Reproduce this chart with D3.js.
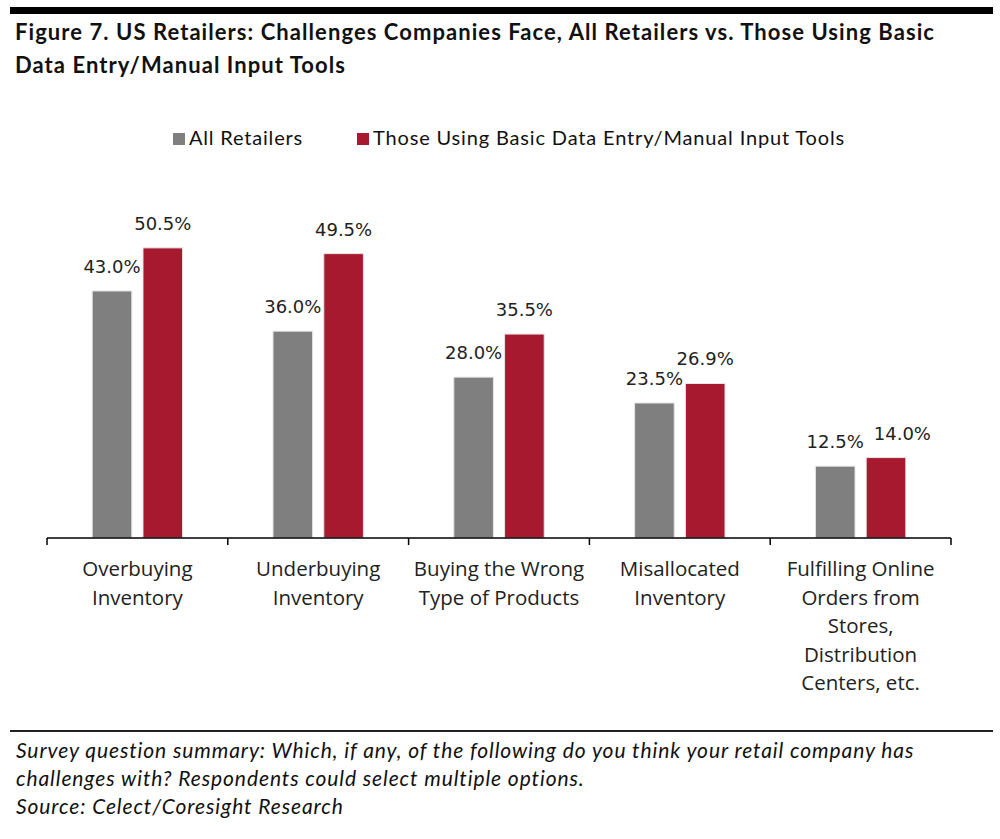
<!DOCTYPE html>
<html>
<head>
    <meta charset="utf-8">
    <title>US Retailers: Challenges Companies Face</title>
    <style>
    body { margin: 0; background: white; }
    .title { font-family: Lato, sans-serif; font-weight: bold; font-size: 22px; fill: #111; }
    .legend text { font-family: Lato, sans-serif; font-size: 20px; fill: #111; }
    .value { font-family: "DejaVu Sans", sans-serif; font-size: 18px; fill: #222; text-anchor: middle; }
    .cat { font-family: "Open Sans", sans-serif; font-size: 20.5px; fill: #222; text-anchor: middle; }
    .note { font-family: Lato, sans-serif; font-style: italic; font-size: 21px; fill: #111; }
    </style>
</head>
<body>
    <svg width="1000" height="839"></svg>
    <script src="https://d3js.org/d3.v7.min.js"></script>
    <script>
        // chart data
        var categories = [
            "Overbuying Inventory",
            "Underbuying Inventory",
            "Buying the Wrong Type of Products",
            "Misallocated Inventory",
            "Fulfilling Online Orders from Stores, Distribution Centers, etc."
        ];
        var catLines = [
            ["Overbuying", "Inventory"],
            ["Underbuying", "Inventory"],
            ["Buying the Wrong", "Type of Products"],
            ["Misallocated", "Inventory"],
            ["Fulfilling Online", "Orders from", "Stores,", "Distribution", "Centers, etc."]
        ];
        var seriesNames = ["All Retailers", "Those Using Basic Data Entry/Manual Input Tools"];
        var allRetailers = [43.0, 36.0, 28.0, 23.5, 12.5];
        var basicTools = [50.5, 49.5, 35.5, 26.9, 14.0];
        var colors = ["#7f7f7f", "#a6192e"];

        var titleLines = [
            "Figure 7. US Retailers: Challenges Companies Face, All Retailers vs. Those Using Basic",
            "Data Entry/Manual Input Tools"
        ];
        var noteLines = [
            "Survey question summary: Which, if any, of the following do you think your retail company has",
            "challenges with? Respondents could select multiple options.",
            "Source: Celect/Coresight Research"
        ];

        var svg = d3.select("svg");

        // stretch a text block with letter-spacing so its first line fills a width
        function spread(sel, width) {
            var first = sel.node();
            var n = first.textContent.length;
            var w = first.getComputedTextLength();
            sel.style("letter-spacing", ((width - w) / n) + "px");
        }

        // top rule + title
        svg.append("rect").attr("x", 10).attr("y", 7).attr("width", 983).attr("height", 7).attr("fill", "#000");
        var title = svg.selectAll(".title")
            .data(titleLines)
            .enter()
            .append("text")
            .attr("class", "title")
            .attr("x", 15)
            .attr("y", (d, i) => 40 + i * 33)
            .text(d => d);
        spread(title, 920);

        // scales
        var x0 = d3.scaleBand()
            .domain(categories)
            .range([47, 951])
            .paddingInner(0.5)
            .paddingOuter(0.25);
        var x1 = d3.scaleBand()
            .domain(seriesNames)
            .range([0, x0.bandwidth()])
            .paddingInner(0.22);
        var y = d3.scaleLinear()
            .domain([0, 60])
            .range([538, 193.3]);

        var rows = categories.map((c, i) => ({
            cat: c,
            values: [
                { s: seriesNames[0], v: allRetailers[i] },
                { s: seriesNames[1], v: basicTools[i] }
            ]
        }));

        // bars
        var groups = svg.append("g")
            .selectAll("g")
            .data(rows)
            .enter()
            .append("g")
            .attr("transform", d => "translate(" + x0(d.cat) + ",0)");

        groups.selectAll("rect")
            .data(d => d.values)
            .enter()
            .append("rect")
            .attr("x", d => x1(d.s))
            .attr("y", d => y(d.v))
            .attr("width", x1.bandwidth())
            .attr("height", d => y(0) - y(d.v))
            .attr("fill", (d, i) => colors[i])
            .attr("stroke", "#e6e6e6")
            .attr("stroke-width", 1);

        groups.selectAll("text")
            .data(d => d.values)
            .enter()
            .append("text")
            .attr("class", "value")
            .attr("x", d => x1(d.s) + x1.bandwidth() / 2)
            .attr("y", d => y(d.v) - 18)
            .text(d => d.v.toFixed(1) + "%");

        // nudge the second label right when the pair sits at nearly the same height
        groups.each(function() {
            var labels = d3.select(this).selectAll("text");
            var nodes = labels.nodes();
            var dy = Math.abs(+d3.select(nodes[0]).attr("y") - +d3.select(nodes[1]).attr("y"));
            var a = nodes[0].getBBox(), b = nodes[1].getBBox();
            var gap = b.x - (a.x + a.width);
            if (dy < 14 && gap < 10) {
                var t = d3.select(nodes[1]);
                t.attr("x", +t.attr("x") + (10 - gap));
            }
        });

        // x axis with ticks at band boundaries
        var axis = svg.append("g");
        var step = x0.step();
        var x0start = x0.range()[0];
        axis.append("line")
            .attr("x1", x0start).attr("x2", x0.range()[1])
            .attr("y1", y(0)).attr("y2", y(0))
            .attr("stroke", "#000").attr("stroke-width", 1.5);
        axis.selectAll(".tick")
            .data(d3.range(categories.length + 1))
            .enter()
            .append("line")
            .attr("x1", i => x0start + i * step)
            .attr("x2", i => x0start + i * step)
            .attr("y1", y(0))
            .attr("y2", y(0) + 7)
            .attr("stroke", "#000").attr("stroke-width", 1.5);

        var catText = svg.append("g")
            .selectAll("text")
            .data(categories)
            .enter()
            .append("text")
            .attr("class", "cat")
            .attr("x", d => x0(d) + x0.bandwidth() / 2)
            .attr("y", 576);
        catText.selectAll("tspan")
            .data((d, i) => catLines[i])
            .enter()
            .append("tspan")
            .attr("x", function() { return d3.select(this.parentNode).attr("x"); })
            .attr("dy", (d, i) => i === 0 ? 0 : 28.6)
            .text(d => d);

        // legend
        var legend = svg.append("g").attr("class", "legend");
        var legendX = [173, 357];
        var legendW = [114, 472];
        seriesNames.forEach(function(s, i) {
            legend.append("rect")
                .attr("x", legendX[i]).attr("y", 133)
                .attr("width", 12).attr("height", 12)
                .attr("fill", colors[i]);
            var t = legend.append("text")
                .attr("x", legendX[i] + 16).attr("y", 145)
                .text(s);
            spread(t, legendW[i]);
        });

        // footnote
        svg.append("rect").attr("x", 10).attr("y", 730).attr("width", 983).attr("height", 2).attr("fill", "#222");
        var notes = svg.selectAll(".note")
            .data(noteLines)
            .enter()
            .append("text")
            .attr("class", "note")
            .attr("x", 16)
            .attr("y", (d, i) => 758 + i * 28)
            .text(d => d);
        spread(notes, 898);
    </script>
</body>
</html>
